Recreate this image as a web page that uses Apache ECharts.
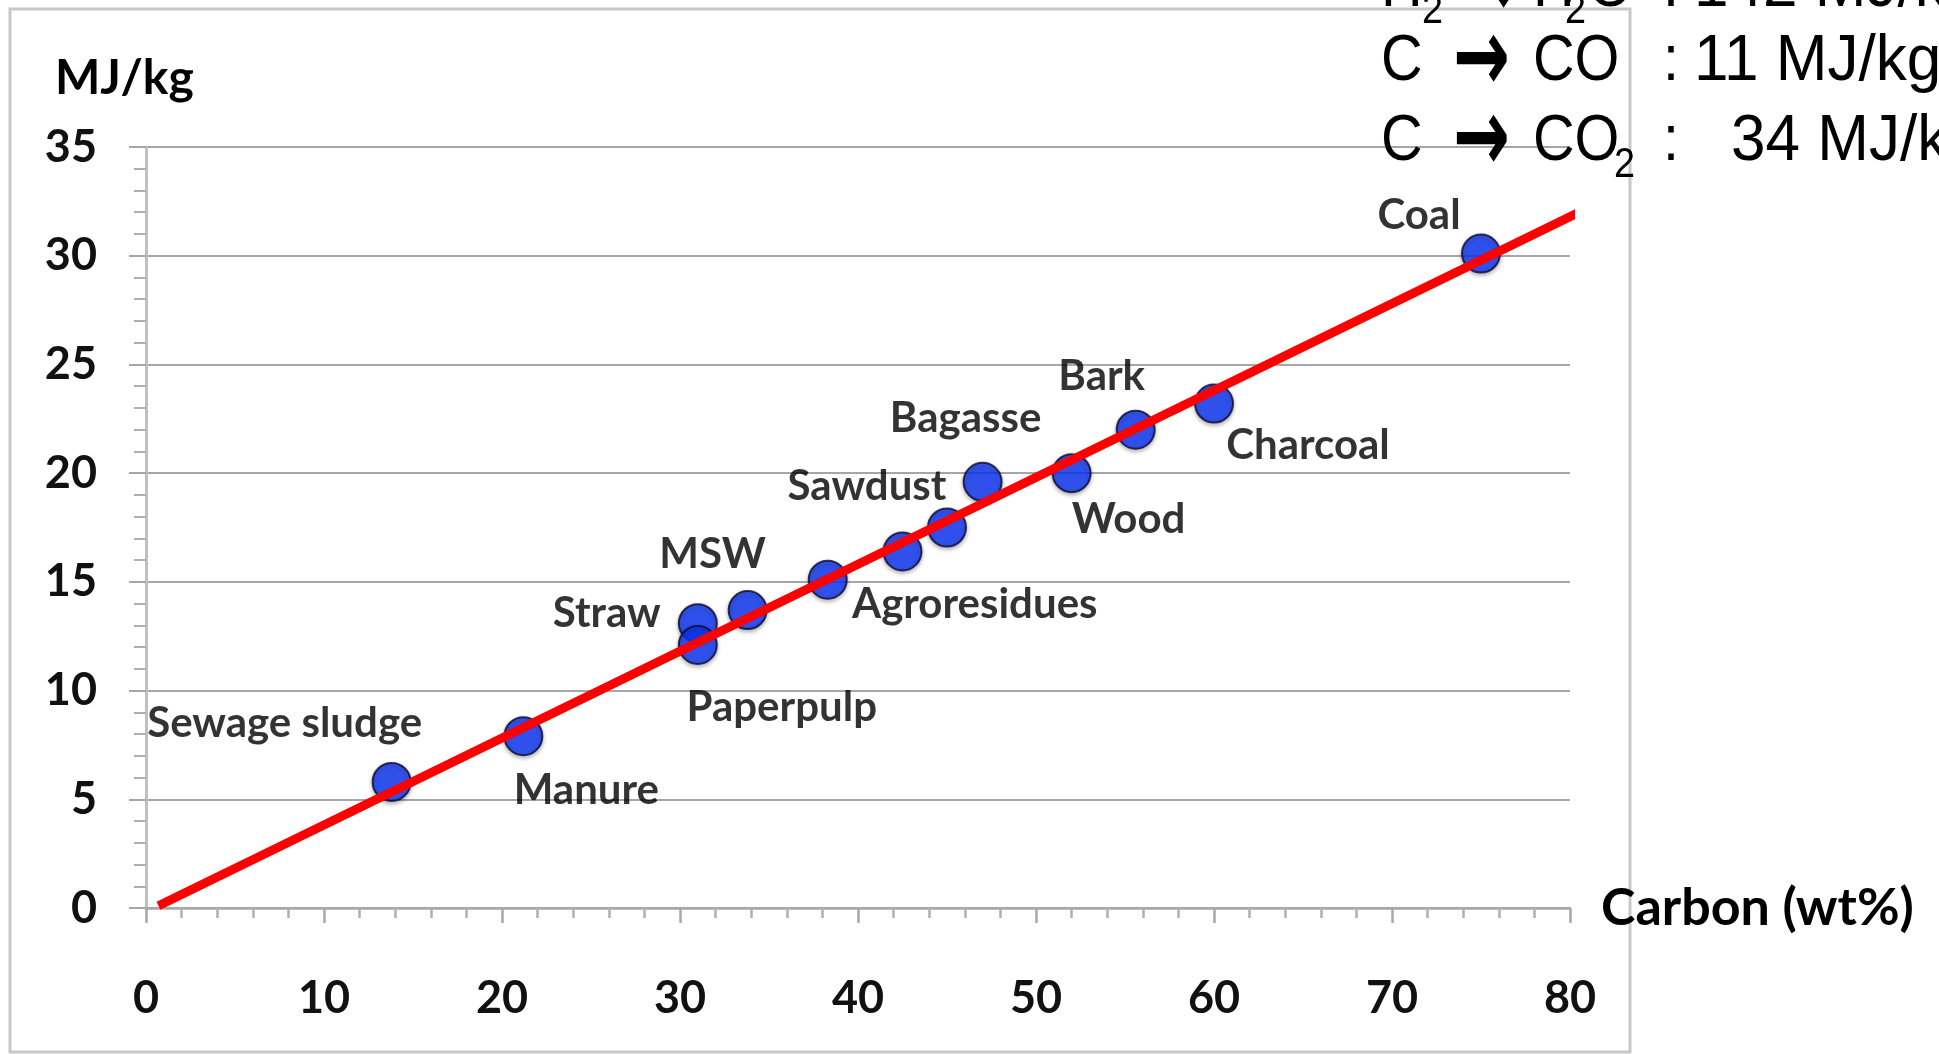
<!DOCTYPE html>
<html>
<head>
<meta charset="utf-8">
<script src="https://cdn.jsdelivr.net/npm/echarts@6/dist/echarts.min.js"></script>
<style>
html,body{margin:0;padding:0;background:#fff;}
#chart{width:1939px;height:1054px;}
</style>
</head>
<body>
<div id="chart"></div>
<script>
// ---- data ----
const names   = ['Sewage sludge','Manure','Straw','Paperpulp','MSW','Agroresidues','','Sawdust','Bagasse','Wood','Bark','Charcoal','Coal'];
const carbon  = [13.8, 21.2, 31.0, 31.0, 33.8, 38.3, 42.5, 45.0, 47.0, 52.0, 55.6, 60.0, 75.0];
const energy  = [5.8, 7.9, 13.1, 12.1, 13.7, 15.1, 16.4, 17.5, 19.6, 20.0, 22.0, 23.2, 30.1];
const fitX    = [0.7, 80.5];
const fitY    = [0.1, 32.0];
const xTicks  = [0, 10, 20, 30, 40, 50, 60, 70, 80];
const yTicks  = [0, 5, 10, 15, 20, 25, 30, 35];
const xTitle  = 'Carbon (wt%)';
const yTitle  = 'MJ/kg';
// reaction notes (top right)
const notes = [
  {from:'H', fromSub:'2', to:'H', toSub:'2', toTail:'O', val:'142 MJ/kg'},
  {from:'C', fromSub:'',  to:'CO', toSub:'',  toTail:'',  val:'11 MJ/kg'},
  {from:'C', fromSub:'',  to:'CO', toSub:'2', toTail:'',  val:'34 MJ/kg'}
];

// ---- layout (label offsets in px, not data) ----
const labelOffsets = [[-107,-58],[63,54],[-91,-10],[84,63],[-35,-56],[147,25],[0,0],[-80,-41],[-17,-63],[57,46],[-34,-53],[94,42],[-62,-38]];

const chart = echarts.init(document.getElementById('chart'), null, {renderer:'canvas'});

const scatterData = carbon.map((x,i)=>({
  name: names[i],
  value:[x, energy[i]],
  label:{show: names[i] !== '', offset: labelOffsets[i]}
}));

const labelFont = {fontFamily:'Lato', fontWeight:'bold', color:'#000'};

// annotation graphic elements
const annFont = 'Liberation Sans';
const lineY = [-12, 62, 142];
const graphics = [
  {type:'rect', z:-10, shape:{x:10,y:9,width:1620,height:1043}, style:{fill:'none', stroke:'#c8c8c8', lineWidth:3}},
  {type:'text', left:55, top:55, z:50, style:{text:yTitle, font:'bold 48px Lato', fill:'#000'}}
];
notes.forEach((n,i)=>{
  const cy = lineY[i];
  const big = '64px "' + annFont + '"';
  const small = '42px "' + annFont + '"';
  const base = {type:'text', z:100};
  graphics.push(Object.assign({}, base, {x:1381, y:cy, scaleX:0.9, style:{text:n.from, font:big, fill:'#000', verticalAlign:'middle'}}));
  if(n.fromSub) graphics.push(Object.assign({}, base, {x:1422, y:cy+23, scaleX:0.9, style:{text:n.fromSub, font:small, fill:'#000', verticalAlign:'middle'}}));
  graphics.push(Object.assign({}, base, {x: i===0 ? 1463 : 1453, y:cy+2, scaleX:0.85, scaleY:1.3, style:{text:'\u2192', font:'bold 80px "DejaVu Sans"', fill:'#000', verticalAlign:'middle'}}));
  graphics.push(Object.assign({}, base, {x:1533, y:cy, scaleX:0.9, style:{text:n.to, font:big, fill:'#000', verticalAlign:'middle'}}));
  if(n.toSub){
    const sx = (i===0) ? 1565 : 1614;
    graphics.push(Object.assign({}, base, {x:sx, y:cy+23, scaleX:0.9, style:{text:n.toSub, font:small, fill:'#000', verticalAlign:'middle'}}));
  }
  if(n.toTail) graphics.push(Object.assign({}, base, {x:1588, y:cy, scaleX:0.9, style:{text:n.toTail, font:big, fill:'#000', verticalAlign:'middle'}}));
  graphics.push(Object.assign({}, base, {x:1663, y:cy, scaleX:0.9, style:{text:':', font:big, fill:'#000', verticalAlign:'middle'}}));
  graphics.push(Object.assign({}, base, {x: i===2 ? 1731 : 1694, y:cy, scaleX:0.97, style:{text:n.val, font:big, fill:'#000', verticalAlign:'middle'}}));
});

const option = {
  animation:false,
  backgroundColor:'#ffffff',
  grid:{left:146, right:369, top:147, bottom:146, containLabel:false},
  xAxis:{
    type:'value', min:xTicks[0], max:xTicks[xTicks.length-1], interval:10,
    name:xTitle, nameLocation:'end', nameGap:31,
    nameTextStyle:{fontFamily:'Lato', fontWeight:'bold', fontSize:52, color:'#000', align:'left', verticalAlign:'middle'},
    axisLine:{show:true, onZero:false, lineStyle:{color:'#a8a8a8', width:2.5}},
    axisTick:{show:true, inside:false, length:15, lineStyle:{color:'#a8a8a8', width:2.5}},
    minorTick:{show:true, splitNumber:5, length:10, lineStyle:{color:'#b0b0b0', width:2.5}},
    splitLine:{show:false},
    axisLabel:{fontFamily:'Lato', fontWeight:'bold', fontSize:45, color:'#111', margin:68}
  },
  yAxis:{
    type:'value', min:yTicks[0], max:yTicks[yTicks.length-1], interval:5,
    axisLine:{show:true, lineStyle:{color:'#c0c0c0', width:3}},
    axisTick:{show:true, inside:false, length:17, lineStyle:{color:'#a6a6a6', width:2}},
    minorTick:{show:true, splitNumber:5, length:12, lineStyle:{color:'#b0b0b0', width:2}},
    splitLine:{show:true, lineStyle:{color:'#a6a6a6', width:2}},
    axisLabel:{fontFamily:'Lato', fontWeight:'bold', fontSize:45, color:'#111', margin:49}
  },
  series:[
    {
      type:'scatter', z:2,
      symbol:'circle', symbolSize:38,
      itemStyle:{color:'#0d36f7', borderColor:'#0a0a30', borderWidth:2, shadowColor:'rgba(0,0,0,0.35)', shadowBlur:4, shadowOffsetY:2},
      label:{show:true, position:'inside', formatter:'{b}', fontSize:42, align:'center', verticalAlign:'middle', ...labelFont},
      data:scatterData
    },
    {
      type:'line', z:5, clip:false, symbol:'none', silent:true,
      lineStyle:{color:'#ff0000', width:9},
      data: fitX.map((x,i)=>[x, fitY[i]])
    }
  ],
  graphic: graphics
};
chart.setOption(option);
</script>
</body>
</html>
